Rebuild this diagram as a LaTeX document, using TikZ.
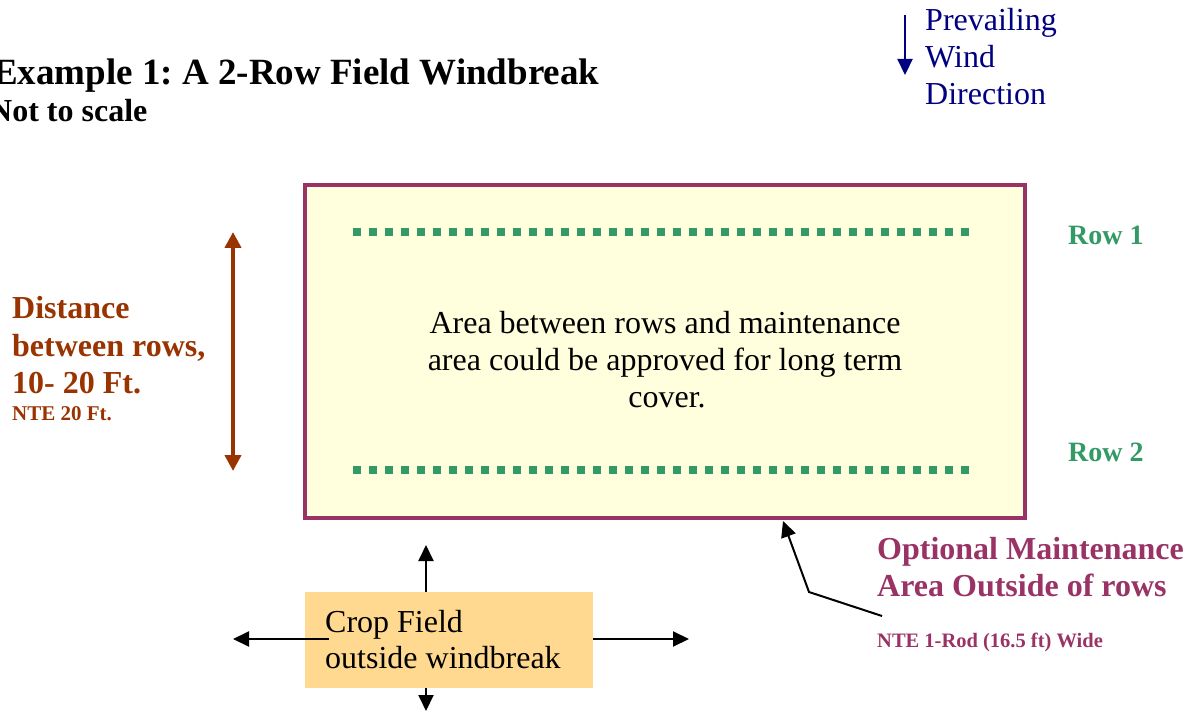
\documentclass[tikz,border=0pt]{standalone}
\usepackage{fontspec}
\setmainfont{Liberation Serif}
\usetikzlibrary{arrows.meta}
\frenchspacing

\definecolor{frameplum}{RGB}{153,51,102}
\definecolor{fieldcream}{RGB}{255,255,221}
\definecolor{rowgreen}{RGB}{51,153,102}
\definecolor{rustbrown}{RGB}{153,51,0}
\definecolor{windnavy}{RGB}{0,0,128}
\definecolor{cropsand}{RGB}{255,217,143}

\tikzset{
  txt/.style={inner sep=0pt, anchor=base west},
  ctxt/.style={inner sep=0pt, anchor=base},
  big/.style={font=\fontsize{32}{37}\selectfont},
  bigbold/.style={font=\bfseries\fontsize{32}{37}\selectfont},
  treerow/.style={rowgreen, line width=8pt, dash pattern=on 8pt off 8pt},
  blackarrow/.style={draw=black, line width=2pt, -{Triangle[length=16pt,width=15pt]}},
}

\begin{document}
\begin{tikzpicture}[x=1pt,y=-1pt]
\useasboundingbox (0,0) rectangle (1194,711);

% heading
\node[txt, font=\bfseries\fontsize{37}{44}\selectfont] (title) at (-7,85) {Example 1: A 2-Row Field Windbreak};
\node[txt, bigbold] (scale) at (-11,122) {Not to scale};

% prevailing wind
\coordinate (windtop) at (905,15);
\coordinate (windtip) at (905,75);
\draw[windnavy, line width=2.2pt, -{Triangle[length=16pt,width=15pt]}] (windtop) -- (windtip);
\node[txt, big, text=windnavy] (wind1) at (925,31) {Prevailing};
\node[txt, big, text=windnavy] (wind2) at (925,68) {Wind};
\node[txt, big, text=windnavy] (wind3) at (925,105) {Direction};

% windbreak area
\draw[frameplum, line width=3.5pt, fill=fieldcream] (305,185) rectangle (1025,518);

% the two tree rows
\coordinate (r1a) at (353,232);
\coordinate (r1b) at (970,232);
\coordinate (r2a) at (353,470);
\coordinate (r2b) at (970,470);
\draw[treerow] (r1a) -- (r1b);
\draw[treerow] (r2a) -- (r2b);
\node[txt, font=\bfseries\fontsize{28}{33}\selectfont, text=rowgreen] (row1) at (1068,245) {Row 1};
\node[txt, font=\bfseries\fontsize{28}{33}\selectfont, text=rowgreen] (row2) at (1068,461) {Row 2};

\node[ctxt, big] (cover1) at (665,334) {Area between rows and maintenance};
\node[ctxt, big] (cover2) at (665,370) {area could be approved for long term};
\node[ctxt, big] (cover3) at (667,407) {cover.};

% spacing between rows
\coordinate (disttop) at (233,232);
\coordinate (distbot) at (233,471);
\draw[rustbrown, line width=4pt, {Triangle[length=16pt,width=16pt]}-{Triangle[length=16pt,width=16pt]}] (disttop) -- (distbot);
\node[txt, bigbold, text=rustbrown] (dist1) at (12,319) {Distance};
\node[txt, bigbold, text=rustbrown] (dist2) at (12,356) {between rows,};
\node[txt, bigbold, text=rustbrown] (dist3) at (12,393) {10- 20 Ft.};
\node[txt, font=\bfseries\fontsize{21}{25}\selectfont, text=rustbrown] (dist4) at (12,420) {NTE 20 Ft.};

% maintenance area
\node[txt, bigbold, text=frameplum] (maint1) at (877,559) {Optional Maintenance};
\node[txt, bigbold, text=frameplum] (maint2) at (877,596) {Area Outside of rows};
\node[txt, font=\bfseries\fontsize{20.5}{24}\selectfont, text=frameplum] (maint3) at (877,647) {NTE 1-Rod (16.5 ft) Wide};
\coordinate (leadstart) at (882,616);
\coordinate (leadbend) at (809,592);
\coordinate (leadtip) at (783,521);
\draw[black, line width=2pt, -{Triangle[length=16pt,width=15pt]}] (leadstart) -- (leadbend) -- (leadtip);

% crop field
\node[fill=cropsand, minimum width=288pt, minimum height=96pt, inner sep=0pt] (crop) at (449,640) {};
\coordinate (cropup) at (426,545);
\coordinate (cropdown) at (426,711);
\coordinate (cropleftin) at (329,639);
\coordinate (cropleft) at (233,639);
\coordinate (cropright) at (689,639);
\draw[blackarrow] (crop.north -| cropup) -- (cropup);
\draw[blackarrow] (crop.south -| cropdown) -- (cropdown);
\draw[blackarrow] (cropleftin) -- (cropleft);
\draw[blackarrow] (crop.east |- cropright) -- (cropright);
\node[txt, big] (crop1) at (325,632) {Crop Field};
\node[txt, big] (crop2) at (325,668) {outside windbreak};
\end{tikzpicture}
\end{document}
